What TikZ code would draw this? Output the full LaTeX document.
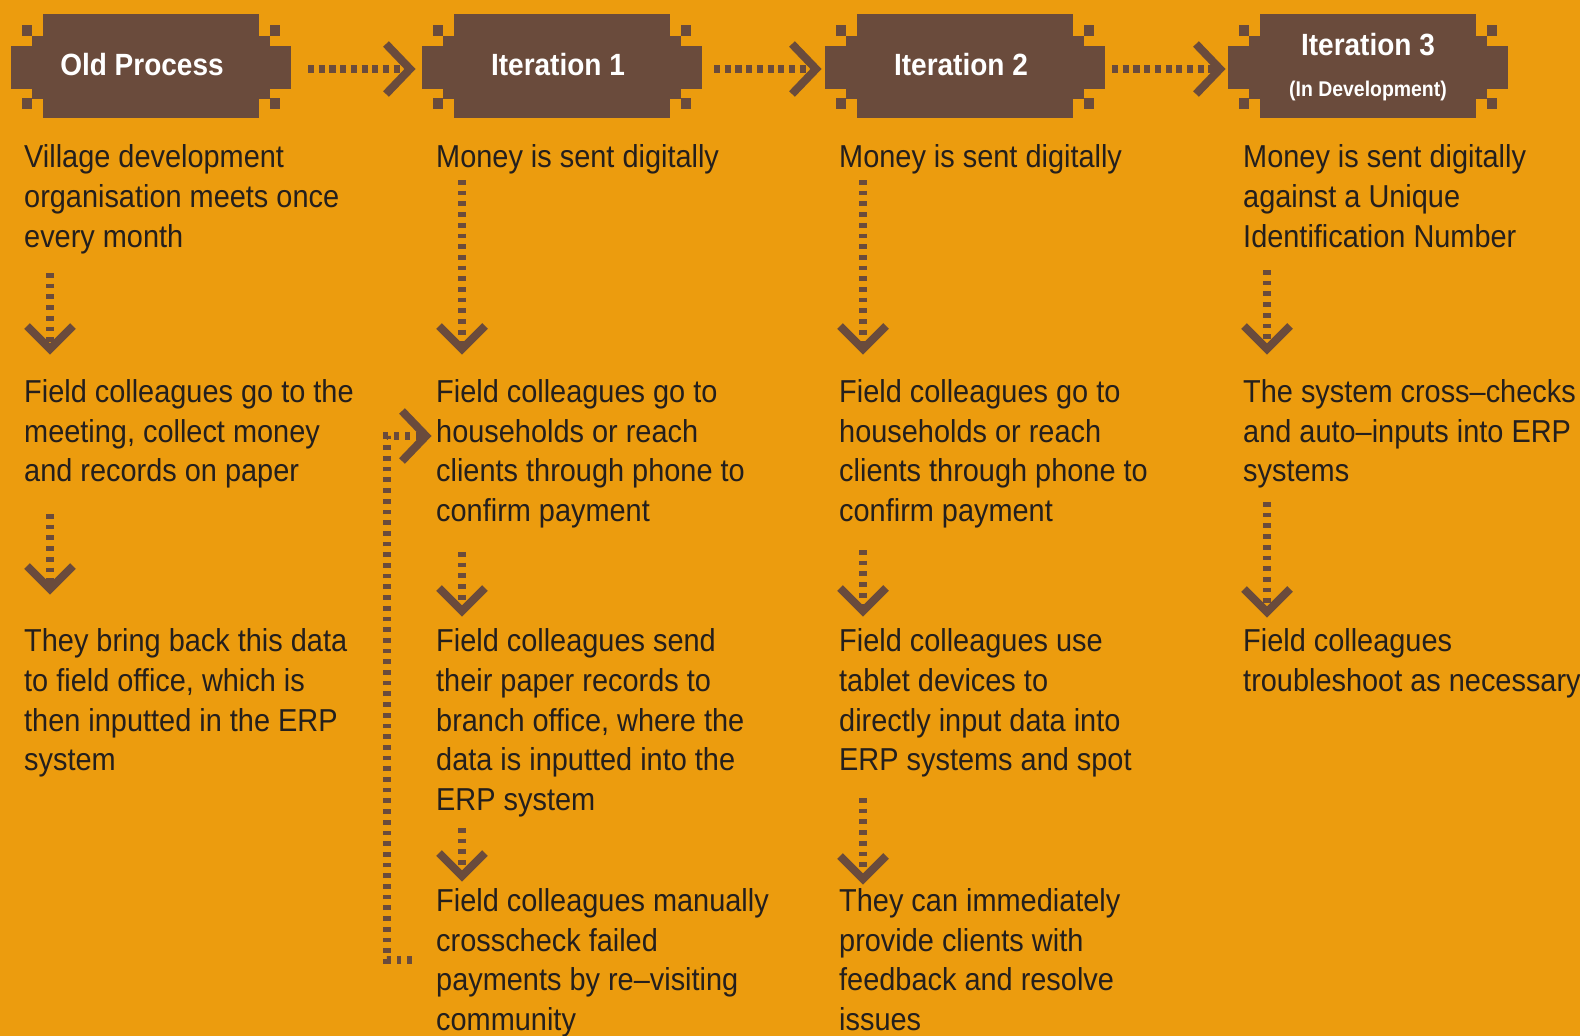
\documentclass[tikz,border=0pt]{standalone}
\usepackage{fontspec}
\setmainfont{Liberation Sans}[FakeStretch=0.912]
\usetikzlibrary{calc}

\definecolor{bgorange}{HTML}{EC9C0E}
\definecolor{bark}{HTML}{6A4B3C}
\definecolor{ink}{HTML}{241F1D}

\tikzset{
  stemline/.style={draw=bark, line width=7.5pt, dash pattern=on 4.7pt off 6pt},
  hdots/.style={draw=bark, line width=7.5pt, dash pattern=on 6.2pt off 4.5pt},
  chevron/.style={draw=bark, line width=8pt, line join=miter, miter limit=4},
  body/.style={anchor=base west, inner sep=0pt,
    text=ink, font=\fontsize{31.7}{39.7}\selectfont},
  hdr/.style={anchor=base, inner sep=0pt, text=white,
    font=\bfseries\fontsize{30.7}{36}\selectfont},
  hdrsmall/.style={anchor=base, inner sep=0pt, text=white,
    font=\bfseries\fontsize{21.3}{26}\selectfont},
}

% left-aligned lines, baseline on the first line
\newcommand\txtblock[1]{\begin{tabular}[t]{@{}l@{}}#1\end{tabular}}

% stepped title plate; #1 = left edge of its widest band
\newcommand\plate[1]{%
  \fill[bark] (#1+32,14) rectangle (#1+248,118);
  \fill[bark] (#1+21,36) rectangle (#1+259,99);
  \fill[bark] (#1,46) rectangle (#1+280,89);
  \fill[bark] (#1+11,25) rectangle (#1+21,36);
  \fill[bark] (#1+11,98) rectangle (#1+21,109);
  \fill[bark] (#1+259,25) rectangle (#1+269,36);
  \fill[bark] (#1+259,98) rectangle (#1+269,109);
}

% dotted arrow pointing down: #1 name, #2 x, #3 top of stem, #4 tip
\newcommand\steparrow[4]{%
  \coordinate (#1s) at (#2,#3);
  \coordinate (#1e) at (#2,#4);
  \draw[stemline] (#1s) -- ([yshift=4pt]#1e);
  \draw[chevron] ($(#1e)+(-23,-23)$) -- (#1e) -- ($(#1e)+(23,-23)$);
}

% dotted arrow pointing right: #1 name, #2 start x, #3 tip x, #4 y
\newcommand\platearrow[4]{%
  \coordinate (#1s) at (#2,#4);
  \coordinate (#1e) at (#3,#4);
  \draw[hdots] (#1s) -- ([xshift=-4pt]#1e);
  \draw[chevron] ($(#1e)+(-24,-25)$) -- (#1e) -- ($(#1e)+(-24,25)$);
}

\begin{document}
\begin{tikzpicture}[x=1pt,y=-1pt]
  \useasboundingbox (0,0) rectangle (1580,1036);
  \clip (0,0) rectangle (1580,1036);
  \fill[bgorange] (0,0) rectangle (1580,1036);

  % title plates
  \plate{11}
  \plate{422}
  \plate{825}
  \plate{1228}
  \node[hdr] (h0) at (142,75.5) {Old Process};
  \node[hdr] (h1) at (558,75.5) {Iteration 1};
  \node[hdr] (h2) at (961,75.5) {Iteration 2};
  \node[hdr] (h3) at (1368,55) {Iteration 3};
  \node[hdrsmall] (h3b) at (1368,96.5) {(In Development)};

  % links between the plates
  \platearrow{p01}{308}{410}{69}
  \platearrow{p12}{714}{816}{69}
  \platearrow{p23}{1112}{1220}{69}

  % old process
  \node[body] (c1r1) at (24,167.7) {\txtblock{Village development\\organisation meets once\\every month}};
  \node[body] (c1r2) at (24,402.5) {\txtblock{Field colleagues go to the\\meeting, collect money\\and records on paper}};
  \node[body] (c1r3) at (24,651.6) {\txtblock{They bring back this data\\to field office, which is\\then inputted in the ERP\\system}};

  % iteration 1
  \node[body] (c2r1) at (436,167.7) {\txtblock{Money is sent digitally}};
  \node[body] (c2r2) at (436,402.5) {\txtblock{Field colleagues go to\\households or reach\\clients through phone to\\confirm payment}};
  \node[body] (c2r3) at (436,651.6) {\txtblock{Field colleagues send\\their paper records to\\branch office, where the\\data is inputted into the\\ERP system}};
  \node[body] (c2r4) at (436,911.5) {\txtblock{Field colleagues manually\\crosscheck failed\\payments by re–visiting\\community}};

  % iteration 2
  \node[body] (c3r1) at (839,167.7) {\txtblock{Money is sent digitally}};
  \node[body] (c3r2) at (839,402.5) {\txtblock{Field colleagues go to\\households or reach\\clients through phone to\\confirm payment}};
  \node[body] (c3r3) at (839,651.6) {\txtblock{Field colleagues use\\tablet devices to\\directly input data into\\ERP systems and spot}};
  \node[body] (c3r4) at (839,911.5) {\txtblock{They can immediately\\provide clients with\\feedback and resolve\\issues}};

  % iteration 3
  \node[body] (c4r1) at (1243,167.7) {\txtblock{Money is sent digitally\\against a Unique\\Identification Number}};
  \node[body] (c4r2) at (1243,402.5) {\txtblock{The system cross–checks\\and auto–inputs into ERP\\systems}};
  \node[body] (c4r3) at (1243,651.6) {\txtblock{Field colleagues\\troubleshoot as necessary}};

  % downward steps
  \steparrow{a1}{50}{273}{349}
  \steparrow{a2}{50}{514}{589}
  \steparrow{b1}{462}{180}{349}
  \steparrow{b2}{462}{552}{611}
  \steparrow{b3}{462}{828}{876}
  \steparrow{c1}{863}{180}{349}
  \steparrow{c2}{863}{550}{611}
  \steparrow{c3}{863}{798}{879}
  \steparrow{d1}{1267}{270}{349}
  \steparrow{d2}{1267}{502}{612}

  % loop back from the manual cross-check to the household visits
  \coordinate (loops) at (412,960);
  \coordinate (loope) at (426,436);
  \draw[stemline] (loops) -- (387,960) |- ([xshift=-4pt]loope);
  \draw[chevron] ($(loope)+(-24,-25)$) -- (loope) -- ($(loope)+(-24,25)$);
\end{tikzpicture}
\end{document}
